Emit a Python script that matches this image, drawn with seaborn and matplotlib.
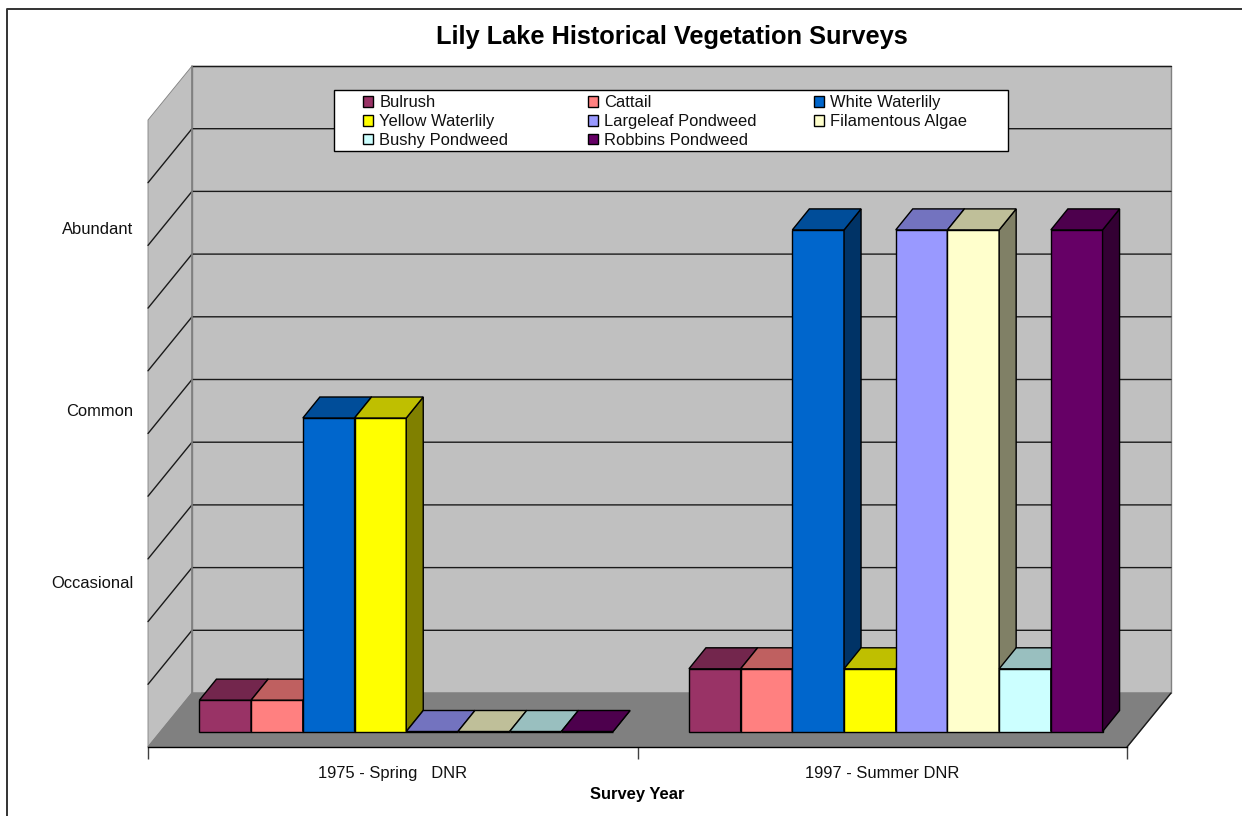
import matplotlib
matplotlib.use('Agg')
import matplotlib.pyplot as plt
import matplotlib.colors as mcolors
from matplotlib.patches import Polygon
import pandas as pd
import seaborn as sns

# Escala de abundancia (0.5 = traza, 5 = Common, 8 = Abundant)
SURVEYS = ['1975 - Spring   DNR', '1997 - Summer DNR']
SPECIES = ['Bulrush', 'Cattail', 'White Waterlily', 'Yellow Waterlily',
           'Largeleaf Pondweed', 'Filamentous Algae', 'Bushy Pondweed', 'Robbins Pondweed']
VALUES_1975 = [0.5, 0.5, 5, 5, 0, 0, 0, 0]
VALUES_1997 = [1, 1, 8, 1, 8, 8, 1, 8]
COLORS = ['#993366', '#FF8080', '#0066CC', '#FFFF00',
          '#9999FF', '#FFFFCC', '#CCFFFF', '#660066']
ABUNDANCE_LABELS = ['Occasional', 'Common', 'Abundant']
ABUNDANCE_TICKS = [2.63, 5.37, 8.27]

W, H = 1242, 816
LEFT, RIGHT, TOP, BOTTOM = 148, 1127, 120, 747   # plano frontal, en pixeles
PX_X = (RIGHT - LEFT) / 2.0
PX_Y = (BOTTOM - TOP) / 10.0
FONT = 11.9

# Profundidad de la caja y de las barras, en unidades de datos
BOX_DX, BOX_DY = 44 / PX_X, 54 / PX_Y
BAR_DX, BAR_DY = 17 / PX_X, 21 / PX_Y
SHIFT_X, SHIFT_Y = 13.5 / PX_X, 15.5 / PX_Y

sns.set_theme(style='white')
plt.rcParams['font.family'] = ['Liberation Sans', 'DejaVu Sans']

df = pd.DataFrame({
    'survey': [SURVEYS[0]] * 8 + [SURVEYS[1]] * 8,
    'species': SPECIES * 2,
    'value': VALUES_1975 + VALUES_1997,
})

fig = plt.figure(figsize=(W / 100, H / 100), dpi=100, facecolor='white')
ax = fig.add_axes([LEFT / W, 1 - BOTTOM / H, (RIGHT - LEFT) / W, (BOTTOM - TOP) / H])

sns.barplot(data=df, x='survey', y='value', hue='species', order=SURVEYS,
            hue_order=SPECIES, palette=COLORS, width=0.845, gap=0, saturation=1,
            edgecolor='black', linewidth=1, ax=ax)
ax.set_xlim(-0.5, 1.5)
ax.set_ylim(0, 10)
ax.patch.set_visible(False)

# Caja 3D: paredes y piso
x0, x1 = -0.5, 1.5
wall_edge = '#808080'
ax.add_patch(Polygon([(x0 + BOX_DX, BOX_DY), (x1 + BOX_DX, BOX_DY),
                      (x1 + BOX_DX, 10 + BOX_DY), (x0 + BOX_DX, 10 + BOX_DY)],
                     fc='#C0C0C0', ec=wall_edge, lw=1, clip_on=False, zorder=0.5))
ax.add_patch(Polygon([(x0, 0), (x0 + BOX_DX, BOX_DY), (x0 + BOX_DX, 10 + BOX_DY), (x0, 10)],
                     fc='#C0C0C0', ec=wall_edge, lw=0.6, clip_on=False, zorder=0.6))
ax.add_patch(Polygon([(x0, 0), (x1, 0), (x1 + BOX_DX, BOX_DY), (x0 + BOX_DX, BOX_DY)],
                     fc='#808080', ec=wall_edge, lw=1, clip_on=False, zorder=0.7))
for level in range(1, 10):
    ax.plot([x0, x0 + BOX_DX, x1 + BOX_DX], [level, level + BOX_DY, level + BOX_DY],
            color='#1a1a1a', lw=1, clip_on=False, zorder=0.8)
ax.plot([x0 + BOX_DX, x1 + BOX_DX], [10 + BOX_DY, 10 + BOX_DY], color='#1a1a1a', lw=1,
        clip_on=False, zorder=0.8)
ax.plot([x0 + BOX_DX, x0 + BOX_DX], [BOX_DY, 10 + BOX_DY], color=wall_edge, lw=1.2,
        clip_on=False, zorder=0.9)
ax.plot([x1, x1 + BOX_DX], [0, BOX_DY], color='#1a1a1a', lw=1, clip_on=False, zorder=0.9)


def darker(color, factor):
    r, g, b = mcolors.to_rgb(color)
    return (r * factor, g * factor, b * factor)


# Caras superior y lateral, de izquierda a derecha para que tapen bien
bars = [b for c in ax.containers for b in c]
bars.sort(key=lambda b: b.get_x())
for i, bar in enumerate(bars):
    bar.set_x(bar.get_x() + SHIFT_X)
    bar.set_y(SHIFT_Y)
    bar.set_zorder(3 + i)
    bar.set_clip_on(False)
    color = bar.get_facecolor()
    xa, xb = bar.get_x(), bar.get_x() + bar.get_width()
    ya, yb = SHIFT_Y, SHIFT_Y + bar.get_height()
    ax.add_patch(Polygon([(xb, ya), (xb + BAR_DX, ya + BAR_DY), (xb + BAR_DX, yb + BAR_DY), (xb, yb)],
                         fc=darker(color, 0.5), ec='black', lw=1, clip_on=False, zorder=3 + i))
    ax.add_patch(Polygon([(xa, yb), (xb, yb), (xb + BAR_DX, yb + BAR_DY), (xa + BAR_DX, yb + BAR_DY)],
                         fc=darker(color, 0.75), ec='black', lw=1, clip_on=False, zorder=3 + i))

# Ejes
for side in ['top', 'right', 'left']:
    ax.spines[side].set_visible(False)
ax.spines['bottom'].set_color('black')
ax.spines['bottom'].set_linewidth(1)
ax.spines['bottom'].set_zorder(2)
ax.set_xticks([-0.5, 0.5, 1.5], labels=['', '', ''])
ax.set_xticks([0, 1], labels=SURVEYS, minor=True)
ax.tick_params(axis='x', which='major', length=8.6, width=1, color='#404040', bottom=True)
ax.tick_params(axis='x', which='minor', length=0, pad=14, labelsize=FONT, labelcolor='#111111')
ax.set_yticks(ABUNDANCE_TICKS, labels=ABUNDANCE_LABELS)
ax.tick_params(axis='y', length=0, pad=10.5, labelsize=FONT, labelcolor='#111111')
ax.set_xlabel('Survey Year', fontsize=FONT, fontweight='bold', color='black', labelpad=4)
ax.set_ylabel('')

fig.text(672 / W, 1 - 37 / H, 'Lily Lake Historical Vegetation Surveys', ha='center', va='center',
         fontsize=18.3, fontweight='bold', color='black')

# Leyenda: marco blanco y una columna por cada tres especies
fig.add_artist(plt.Rectangle((334 / W, 1 - 151 / H), 674 / W, 61 / H, fc='white', ec='black',
                             lw=1, transform=fig.transFigure, zorder=20))
handles, labels = ax.get_legend_handles_labels()
ax.get_legend().remove()
for col, px in enumerate([358, 583, 809]):
    leg = fig.legend([handles[j] for j in range(col, 8, 3)],
                     [labels[j] for j in range(col, 8, 3)],
                     loc='upper left', bbox_to_anchor=(px / W, 1 - 90 / H), frameon=False,
                     fontsize=FONT, handlelength=0.6, handleheight=0.6, handletextpad=0.36,
                     labelspacing=0.23, borderpad=0.33, borderaxespad=0, labelcolor='#111111')
    leg.set_zorder(21)
    for h in leg.legend_handles:
        h.set_edgecolor('black')
        h.set_linewidth(1)

# Marco exterior, solo arriba e izquierda entran en la imagen
fig.add_artist(plt.Line2D([7 / W, 7 / W, 1], [0, 1 - 9 / H, 1 - 9 / H], color='#333333', lw=1.4,
                          transform=fig.transFigure))

fig.savefig('out.png', dpi=100)
